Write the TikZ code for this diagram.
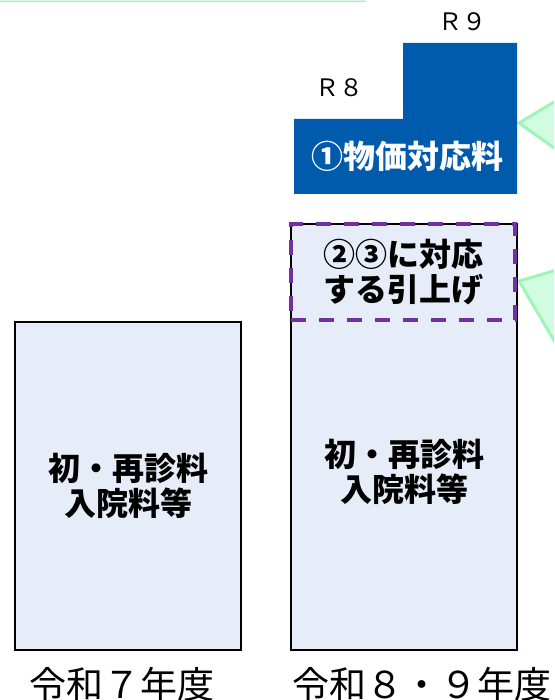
\documentclass[tikz,border=0pt]{standalone}
\usepackage{fontspec}
\setmainfont{Noto Sans CJK JP}
\definecolor{bluec}{HTML}{005BAC}
\definecolor{boxfill}{HTML}{E6ECF8}
\definecolor{purpc}{HTML}{7030A0}
\definecolor{greenfill}{HTML}{D2FCE0}
\definecolor{greenline}{HTML}{9EF5B8}
\begin{document}
\begin{tikzpicture}[x=1pt,y=-1pt,
  box/.style={draw=black, line width=2.7pt, fill=boxfill, inner sep=0pt},
  dashbox/.style={draw=purpc, line width=3.2pt, dash pattern=on 15pt off 13pt, inner sep=0pt,
    align=center, font=\bfseries\fontsize{32}{35}\selectfont},
  boldlbl/.style={align=center, font=\bfseries\fontsize{32}{35}\selectfont, inner sep=0pt},
  whitelbl/.style={boldlbl, text=white},
  rlbl/.style={font=\fontsize{24}{26}\selectfont, inner sep=0pt},
  ylbl/.style={font=\fontsize{37}{40}\selectfont, inner sep=0pt, anchor=base},
  callout/.style={fill=greenfill, draw=greenline, line width=3pt, line join=miter}]
\useasboundingbox (0,0) rectangle (554,700);
\clip (0,0) rectangle (554,700);
% top green strip
\fill[greenfill] (0,0) rectangle (366,2.5);
\fill[greenline] (0,1) rectangle (366,2.5);
% callouts
\draw[callout] (519,123) -- (619,63) -- (619,194) -- cycle;
\draw[callout] (519,281) -- (619,252) -- (619,451) -- cycle;
% blue price block
\fill[bluec] (294,119) -- (403,119) -- (403,43) -- (517,43) -- (517,194) -- (294,194) -- cycle;
\node[whitelbl] (bukka) at (407,156) {①物価対応料};
\node[rlbl] (r8) at (339,88) {Ｒ８};
\node[rlbl] (r9) at (462,22) {Ｒ９};
% left box
\node[box, boldlbl, minimum width=226pt, minimum height=328pt] (r7box) at (128,486) {初・再診料\\入院料等};
% right box
\node[box, minimum width=226pt, minimum height=426pt] (r89box) at (404,437) {};
\node[boldlbl] (r89txt) at (404,472) {初・再診料\\入院料等};
\node[dashbox, minimum width=224pt, minimum height=96pt] (inc) at (403,272) {②③に対応\\する引上げ};
% year labels
\node[ylbl] (y7) at (122,698) {令和７年度};
\node[ylbl] (y89) at (422,698) {令和８・９年度};
\end{tikzpicture}
\end{document}
